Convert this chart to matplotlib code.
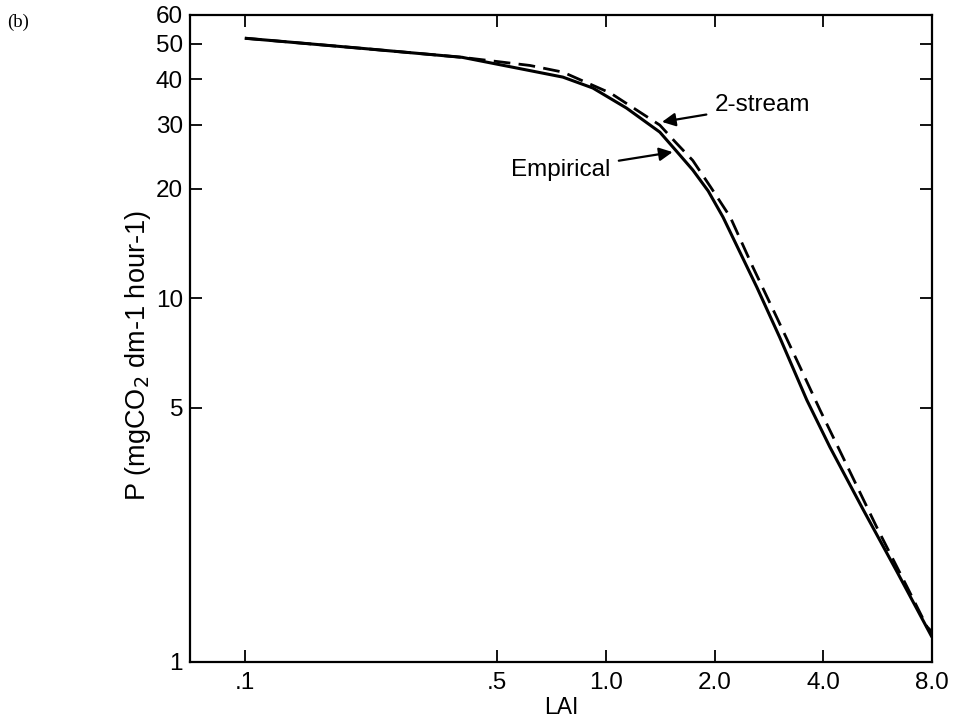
import matplotlib
matplotlib.use('Agg')
import matplotlib.pyplot as plt
from matplotlib.ticker import NullLocator, FixedLocator, FixedFormatter

plt.rcParams['font.family'] = ['Liberation Sans', 'DejaVu Sans']

# Empirical curve
lai_emp = [0.1, 0.21, 0.40, 0.616, 0.76, 0.92, 1.14, 1.41, 1.56, 1.74, 1.92, 2.11, 2.62, 3.03, 3.6, 4.17, 5.15, 6.4, 8.0]
p_emp = [51.8, 48.6, 45.9, 42.2, 40.5, 37.8, 33.3, 28.6, 25.5, 22.5, 19.7, 16.7, 10.7, 7.8, 5.25, 3.9, 2.63, 1.77, 1.17]

# 2-stream curve
lai_2s = [0.1, 0.21, 0.40, 0.616, 0.76, 1.03, 1.41, 1.56, 1.74, 1.95, 2.21, 2.55, 2.97, 3.45, 3.92, 4.53, 5.62, 6.82, 7.75, 8.0]
p_2s = [51.8, 48.6, 45.9, 43.6, 41.8, 36.6, 29.9, 26.8, 23.9, 20.2, 16.7, 12.2, 8.87, 6.46, 4.92, 3.66, 2.35, 1.61, 1.25, 1.21]

# Axis ticks
x_ticks = [0.1, 0.5, 1.0, 2.0, 4.0, 8.0]
x_labels = ['.1', '.5', '1.0', '2.0', '4.0', '8.0']
y_ticks = [1, 5, 10, 20, 30, 40, 50, 60]
y_labels = ['1', '5', '10', '20', '30', '40', '50', '60']

fig = plt.figure(figsize=(9.54, 7.19), dpi=100)
ax = fig.add_axes([190/954, 57/719, 742/954, 647/719])

ax.plot(lai_emp, p_emp, color='black', lw=2.2, solid_capstyle='butt', solid_joinstyle='round')
ax.plot(lai_2s, p_2s, color='black', lw=2.0, dashes=(6, 3))

ax.set_xscale('log')
ax.set_yscale('log')
ax.set_xlim(0.0705, 8.0)
ax.set_ylim(1, 60)

ax.xaxis.set_major_locator(FixedLocator(x_ticks))
ax.xaxis.set_major_formatter(FixedFormatter(x_labels))
ax.xaxis.set_minor_locator(NullLocator())
ax.yaxis.set_major_locator(FixedLocator(y_ticks))
ax.yaxis.set_major_formatter(FixedFormatter(y_labels))
ax.yaxis.set_minor_locator(NullLocator())

ax.tick_params(which='major', direction='in', top=True, right=True,
               length=8.5, width=1.3, labelsize=17.5, pad=5)
ax.tick_params(axis='x', pad=7)
for s in ax.spines.values():
    s.set_linewidth(1.6)

ax.set_xlabel('LAI', fontsize=16.5, labelpad=2)
ax.set_ylabel(r'P (mgCO$_2$ dm-1 hour-1)', fontsize=19.5)
ax.yaxis.set_label_coords(-0.05, 0.474)

arrow = dict(arrowstyle='-|>', color='black', lw=1.6, mutation_scale=20, shrinkA=4, shrinkB=0)
ax.annotate('2-stream', xy=(1.43, 30.5), xytext=(2.0, 33.9), fontsize=17.5,
            ha='left', va='center', arrowprops=arrow)
ax.annotate('Empirical', xy=(1.53, 25.2), xytext=(1.03, 22.5), fontsize=17.5,
            ha='right', va='center', arrowprops=arrow)

fig.text(7/954, 1 - 22/719, '(b)', family='Liberation Serif', fontsize=13.5, va='center')

fig.savefig('out.png', dpi=100)
